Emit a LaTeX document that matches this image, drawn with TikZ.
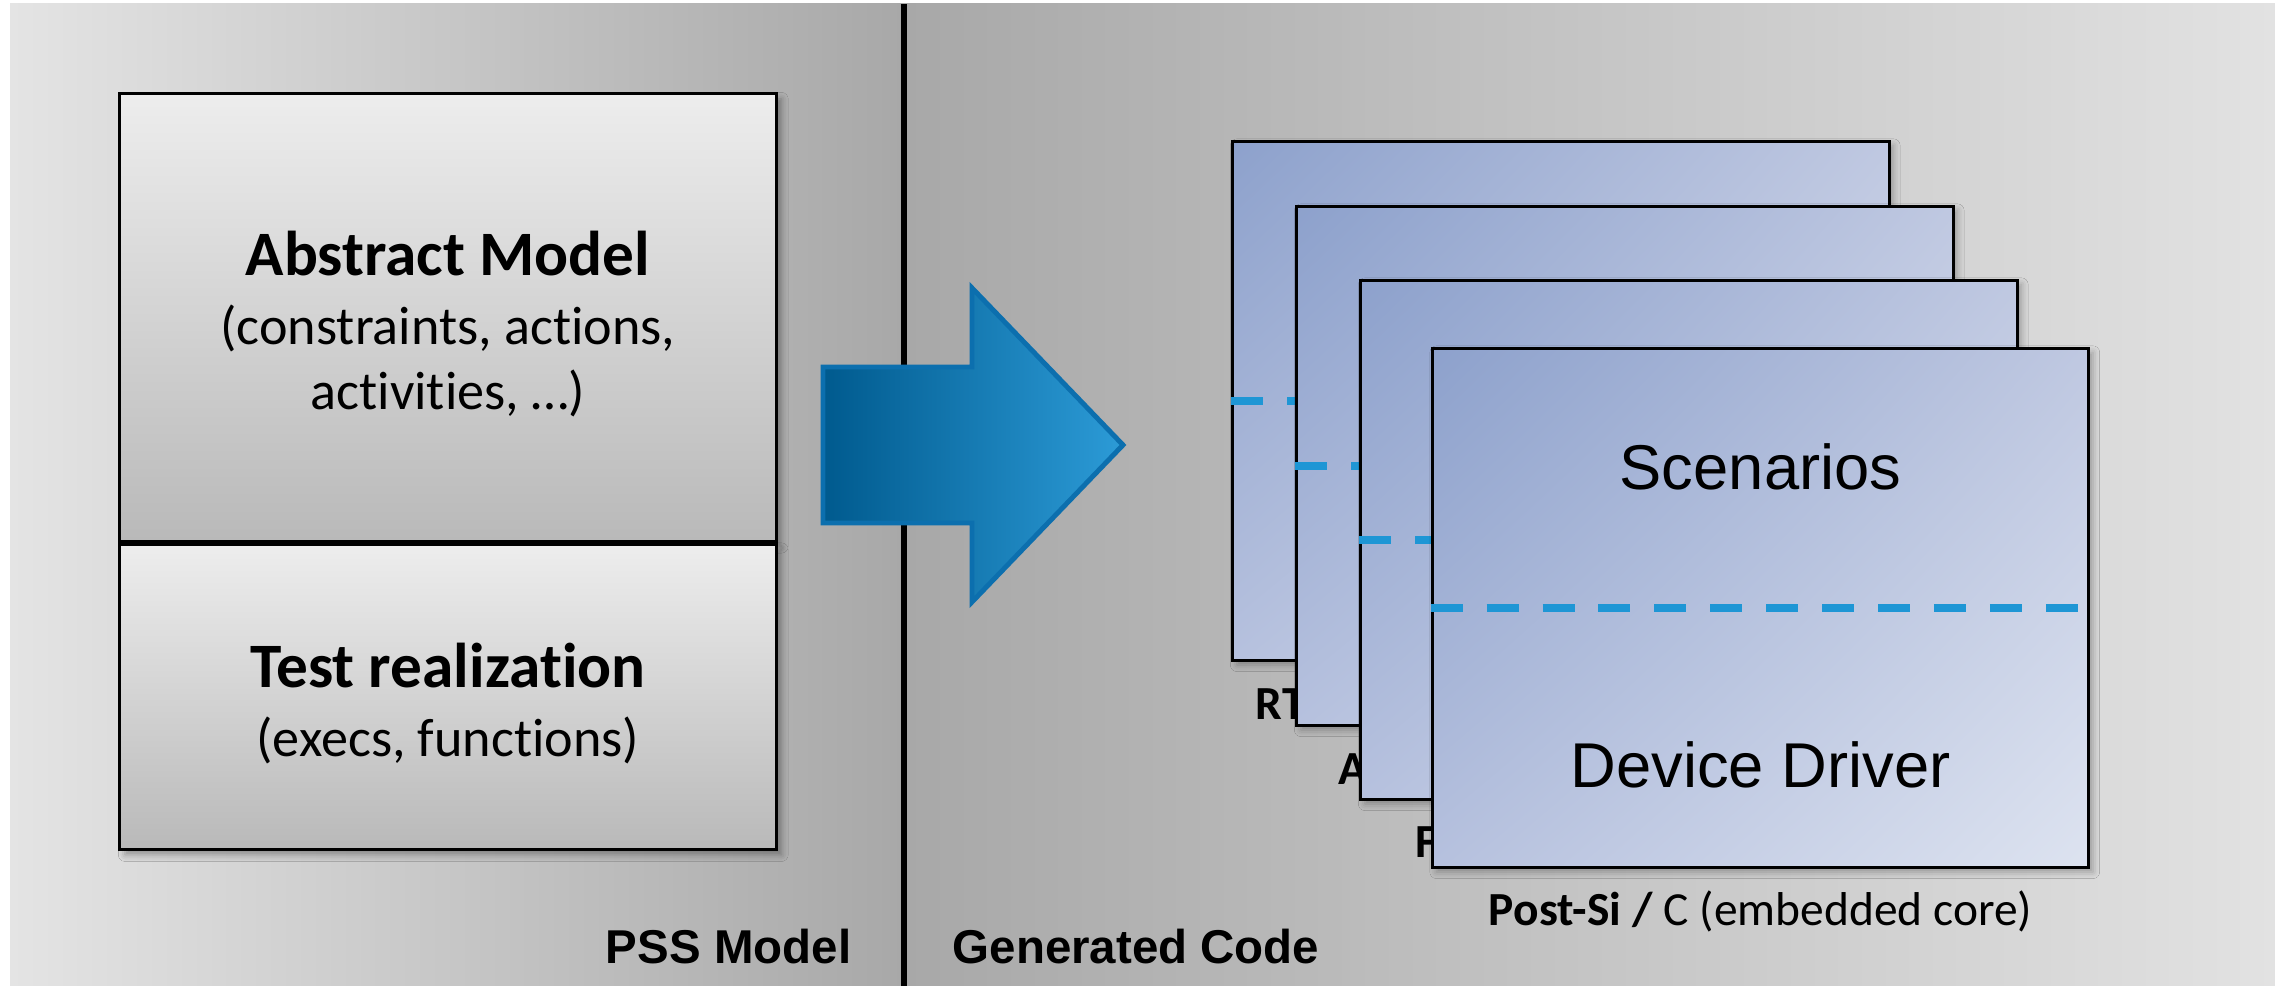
\documentclass[tikz,border=0pt]{standalone}
\usepackage{fontspec}
\setmainfont{Carlito}[Ligatures=NoCommon]
\newfontfamily\arialfont{Liberation Sans}
\usetikzlibrary{positioning,shadings,shadows.blur}
\definecolor{bgpale}{HTML}{E4E4E4}
\definecolor{bgdark}{HTML}{A8A8A8}
\definecolor{bgpaleright}{HTML}{E2E2E2}
\definecolor{boxtop}{HTML}{EDEDED}
\definecolor{boxbottom}{HTML}{B9B9B9}
\definecolor{cardul}{HTML}{8DA1CC}
\definecolor{cardur}{HTML}{BFC8E1}
\definecolor{cardll}{HTML}{B6C1DE}
\definecolor{cardlr}{HTML}{DDE3F0}
\definecolor{dashblue}{HTML}{1E96D5}
\definecolor{arrowdark}{HTML}{005A8E}
\definecolor{arrowmid}{HTML}{0A7CC0}
\definecolor{arrowlight}{HTML}{2C9BD7}
\definecolor{arrowedge}{HTML}{0C6FAE}
\newcommand{\boxtitle}[1]{\rule{0pt}{16.5pt}{\fontsize{18}{20}\selectfont\bfseries #1}\\[1pt]}

\begin{document}
\begin{tikzpicture}[x=0.01cm,y=-0.01cm,
    node distance=0pt,
    modelbox/.style={rectangle,draw,line width=0.9pt,minimum width=6.56cm,
                     top color=boxtop,bottom color=boxbottom,align=center,
                     font=\fontsize{15.4}{18.5}\selectfont,
                     blur shadow={shadow xshift=1.5pt,shadow yshift=-1.5pt,
                                  shadow blur steps=4,shadow opacity=35}},
    card/.style={rectangle,draw,line width=0.9pt,minimum width=6.56cm,
                 minimum height=5.19cm,upper left=cardul,upper right=cardur,
                 lower left=cardll,lower right=cardlr,
                 blur shadow={shadow xshift=1.2pt,shadow yshift=-1.2pt,
                              shadow blur steps=4,shadow opacity=30}},
    cardtext/.style={font=\arialfont\fontsize{18}{21}\selectfont},
    sublabel/.style={inner sep=0pt,font=\fontsize{13.5}{16}\selectfont},
    section/.style={inner sep=0pt,font=\arialfont\bfseries\fontsize{13.5}{16}\selectfont},
    divider/.style={dashblue,line width=2.3pt,dash pattern=on 9.1pt off 6.8pt}
]
    \useasboundingbox (0,0) rectangle (2275,986);
    \fill[white] (0,0) rectangle (2275,986);
    \shade[left color=bgpale,right color=bgdark] (10,4) rectangle (904,986);
    \shade[left color=bgdark,right color=bgpaleright] (904,4) rectangle (2275,986);
    \draw[line width=1.7pt] (904,4) -- (904,986);

    \node[modelbox,minimum height=4.47cm] (abs) at (448,317.5)
        {\boxtitle{Abstract Model}(constraints, actions,\\activities, …)};
    \node[modelbox,minimum height=3.05cm,below=of abs] (real)
        {\boxtitle{Test realization}(execs, functions)};

    \node[section,anchor=east] (pss) at (852,947) {PSS Model};
    \node[section,anchor=west] (gen) at (952,947) {Generated Code};

    \shade[left color=arrowdark,middle color=arrowmid,right color=arrowlight,
           draw=arrowedge,line width=1.4pt]
        (823,367) -- (972,367) -- (972,288) -- (1123,445) -- (972,602)
        -- (972,523) -- (823,523) -- cycle;

    \node[sublabel,anchor=west] (rtl) at (1255,704) {\textbf{RT}};
    \node[sublabel,anchor=west] (ate) at (1338,769) {\textbf{A}};
    \node[sublabel,anchor=west] (fpga) at (1415,842) {\textbf{F}};

    \node[card] (c1) at (1561,401) {};
    \draw[divider] (c1.west) -- (c1.east);
    \node[card] (c2) at (1625,466) {};
    \draw[divider] (c2.west) -- (c2.east);
    \node[card] (c3) at (1689,540) {};
    \draw[divider] (c3.west) -- (c3.east);
    \node[card] (c4) at (1760.5,608) {};
    \draw[divider] (c4.west) -- (c4.east);

    \node[cardtext] (scen) at ([yshift=1.41cm]c4.center) {Scenarios};
    \node[cardtext] (drv) at ([yshift=-1.57cm]c4.center) {Device Driver};
    \node[sublabel] (post) at ([yshift=-0.42cm]c4.south)
        {\textbf{Post-Si /} C (embedded core)};
\end{tikzpicture}
\end{document}
